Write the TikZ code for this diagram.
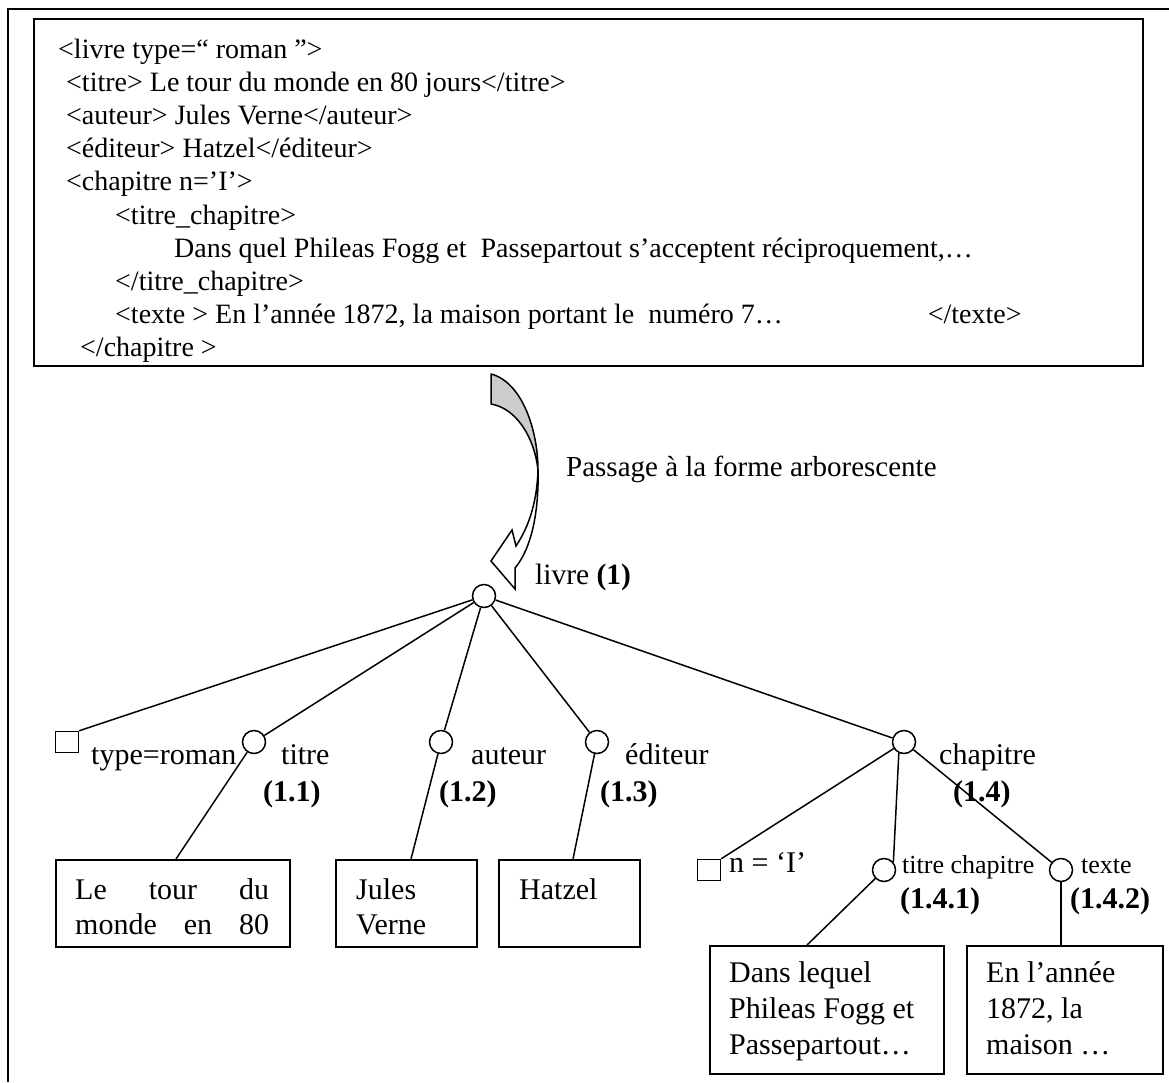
\documentclass[tikz,border=0pt]{standalone}
\usepackage{fontspec}
\setmainfont{Liberation Serif}
\usetikzlibrary{calc}
\tikzset{
  codeline/.style={font=\fontsize{28}{33}\selectfont, anchor=base west, inner sep=0pt},
  lab/.style={font=\fontsize{30}{35}\selectfont, anchor=base west, inner sep=0pt},
  smalllab/.style={font=\fontsize{26}{30}\selectfont, anchor=base west, inner sep=0pt},
  num/.style={font=\fontsize{30}{35}\selectfont\bfseries, anchor=base west, inner sep=0pt},
  elem/.style={circle, draw, line width=1.5pt, minimum size=23pt, inner sep=0pt},
  attr/.style={rectangle, draw, line width=1.5pt, minimum width=23pt, minimum height=21pt, inner sep=0pt},
  leaf/.style={rectangle, draw, line width=1.5pt, anchor=north west, inner sep=0pt},
  leaftext/.style={font=\fontsize{30}{35}\selectfont, anchor=north west, inner sep=0pt, align=left},
  branch/.style={line width=1.5pt},
}
\begin{document}
\begin{tikzpicture}[x=1pt, y=-1pt]
\useasboundingbox (0,0) rectangle (1169,1082);

% page frame (top and left edges)
\draw[line width=2.4pt] (1169,9) -- (8,9) -- (8,1082);

% XML source box
\node[leaf, line width=2pt, minimum width=1109pt, minimum height=347pt] (xml) at (33,18) {};
\node[codeline] (c1)  at (58,58)    {<livre type=“ roman ”>};
\node[codeline] (c2)  at (66,91.2)  {<titre> Le tour du monde en 80 jours</titre>};
\node[codeline] (c3)  at (66,124.4) {<auteur> Jules Verne</auteur>};
\node[codeline] (c4)  at (66,157.6) {<éditeur> Hatzel</éditeur>};
\node[codeline] (c5)  at (66,190.8) {<chapitre n=’I’>};
\node[codeline] (c6)  at (115,224)  {<titre\_chapitre>};
\node[codeline] (c7)  at (174,257.2){Dans quel Phileas Fogg et\ \ Passepartout s’acceptent réciproquement,…};
\node[codeline] (c8)  at (115,290.4){</titre\_chapitre>};
\node[codeline] (c9)  at (115,323.6){<texte > En l’année 1872, la maison portant le\ \ numéro 7…\hspace{138pt} </texte>};
\node[codeline] (c10) at (80,356.8) {</chapitre >};

% curved block arrow
\filldraw[fill=black!20, line width=1.5pt, line join=round]
  (491,374) -- (491,404) .. controls (515,408) and (534,435) .. (538,470)
  .. controls (538,430) and (522,382) .. (491,374) -- cycle;
\filldraw[fill=white, line width=1.5pt, line join=miter]
  (538,470) .. controls (539,510) and (532,548) .. (515,568)
  -- (515,589) -- (491,561) -- (512,530) -- (516,546)
  .. controls (530,525) and (537,500) .. (538,470) -- cycle;
\node[lab, font=\fontsize{29}{34}\selectfont] (pass) at (566,476) {Passage à la forme arborescente};

% tree nodes
\node[elem] (livre) at (484,596) {};
\node[lab, font=\fontsize{29.5}{34}\selectfont] (livrel) at (535,584) {livre \textbf{(1)}};

\node[attr] (sqtype) at (67,742) {};
\node[elem] (titre)  at (254,742) {};
\node[elem] (auteur) at (441,742) {};
\node[elem] (edit)   at (597,742) {};
\node[elem] (chap)   at (904,742) {};

\node[lab] (ltype)  at (91,764)  {type=roman};
\node[lab] (ltitre) at (281,764) {titre};
\node[num] (ntitre) at (263,801) {(1.1)};
\node[lab] (laut)   at (471,764) {auteur};
\node[num] (naut)   at (439,801) {(1.2)};
\node[lab] (ledit)  at (625,764) {éditeur};
\node[num] (nedit)  at (600,801) {(1.3)};
\node[lab] (lchap)  at (939,764) {chapitre};
\node[num] (nchap)  at (953,801) {(1.4)};

\node[attr] (sqn) at (709,870) {};
\node[elem] (tc)  at (884,870) {};
\node[elem] (tx)  at (1061,870) {};
\node[lab] (ln)   at (729,872) {n = ‘I’};
\node[smalllab] (ltc) at (902,873) {titre chapitre};
\node[num] (ntc)  at (900,908) {(1.4.1)};
\node[smalllab] (ltx) at (1081,873) {texte};
\node[num] (ntx)  at (1070,908) {(1.4.2)};

% leaf boxes
\node[leaf, minimum width=234pt, minimum height=87pt] (b1) at (55,859) {};
\node[leaf, minimum width=141pt, minimum height=87pt] (b2) at (335,859) {};
\node[leaf, minimum width=141pt, minimum height=87pt] (b3) at (498,859) {};
\node[leaf, minimum width=234pt, minimum height=128pt] (b4) at (709,945) {};
\node[leaf, minimum width=196pt, minimum height=128pt] (b5) at (966,945) {};

\node[leaftext, text width=194pt] (t1) at (75,878.5) {Le\hfill tour\hfill du\\monde\hfill en\hfill 80};
\node[leaftext] (t2) at (356,878.5) {Jules\\Verne};
\node[leaftext] (t3) at (519,878.5) {Hatzel};
\node[leaftext, font=\fontsize{30}{36}\selectfont] (t4) at (729,961) {Dans lequel\\Phileas Fogg et\\Passepartout…};
\node[leaftext, font=\fontsize{30}{36}\selectfont] (t5) at (986,961) {En l’année\\1872, la\\maison …};

% branches
\draw[branch] (livre) -- (sqtype.north east);
\draw[branch] (livre) -- (titre);
\draw[branch] (livre) -- (auteur);
\draw[branch] (livre) -- (edit);
\draw[branch] (livre) -- (chap);

\draw[branch] (titre)  -- ([xshift=121pt]b1.north west);
\draw[branch] (auteur) -- ([xshift=76pt]b2.north west);
\draw[branch] (edit)   -- ([xshift=75pt]b3.north west);

\draw[branch] (chap) -- (sqn.north east);
\draw[branch] (chap.-115) -- (tc.40);
\draw[branch] (chap) -- (tx);

\draw[branch] (tc) -- ([xshift=98pt]b4.north west);
\draw[branch] (tx.south) -- (tx.south |- b5.north);
\end{tikzpicture}
\end{document}
